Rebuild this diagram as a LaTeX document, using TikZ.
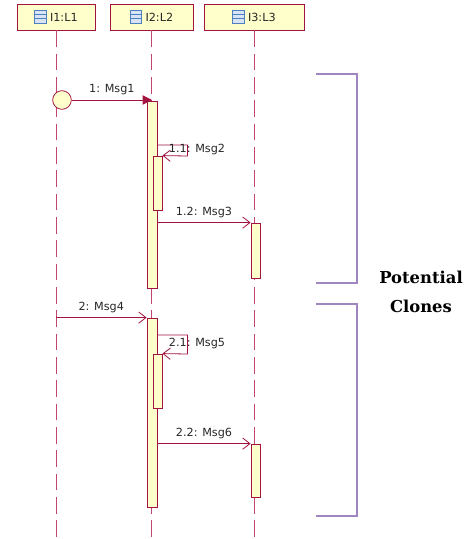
\documentclass[tikz,border=0pt]{standalone}
\usepackage{fontspec}
\setsansfont{DejaVu Sans}
\newfontfamily\notefont{DejaVu Serif}
\usetikzlibrary{positioning,fit,arrows.meta}

\definecolor{umlred}{HTML}{A3133F}
\definecolor{lifered}{HTML}{C2456F}
\definecolor{umlfill}{HTML}{FFFFCC}
\definecolor{iconblue}{HTML}{4F7FBF}
\definecolor{iconfill}{HTML}{D6E4F5}
\definecolor{bracepurple}{HTML}{9F86C0}

% small class icon in the lifeline heads
\newcommand{\clsicon}{\tikz[baseline=0pt]{%
    \draw[iconblue,fill=iconfill,line width=0.6pt] (0pt,-1.5pt) rectangle (8.5pt,8.5pt);
    \draw[iconblue,line width=0.5pt] (0pt,5.5pt) -- (8.5pt,5.5pt) (0pt,2.5pt) -- (8.5pt,2.5pt);}}

\begin{document}
\begin{tikzpicture}[x=0.75pt,y=-0.75pt,
    every node/.style={font=\sffamily\fontsize{8.4}{10}\selectfont,text=black!85},
    head/.style={draw=umlred,fill=umlfill,minimum height=19.5pt,inner sep=0pt,line width=0.6pt},
    bar/.style={draw=umlred,fill=umlfill,inner sep=0pt,line width=0.6pt},
    lifeline/.style={lifered,dash pattern=on 12.5pt off 5pt,line width=0.6pt},
    msg/.style={umlred,line width=0.6pt,-{Straight Barb[length=5.5pt,width=8.5pt]}},
    brace/.style={bracepurple,line width=1.6pt}]
    \useasboundingbox (0,0) rectangle (471,539);

    % Lifeline heads
    \node[head,minimum width=58.5pt] (l1) at (56,17) {\clsicon\ I1:L1};
    \node[head,minimum width=62.25pt] (l2) at (151.5,17) {\clsicon\ I2:L2};
    \node[head,minimum width=75pt] (l3) at (254,17) {\clsicon\ I3:L3};

    % Dashed lifelines
    \foreach \n in {1,2,3} {
        \draw[lifeline] (l\n.south) -- (l\n.south |- 0,539);
    }

    % Activation bars
    \node[bar,fit={(147,101) (157,288)}] (a1) {};
    \node[bar,fit={(153,156) (162,210)}] (a2) {};
    \node[bar,fit={(251,223) (260,278)}] (a3) {};
    \node[bar,fit={(147,318) (157,507)}] (b1) {};
    \node[bar,fit={(153,354) (162,408)}] (b2) {};
    \node[bar,fit={(251,444) (260,497)}] (b3) {};

    % Found message
    \node[circle,draw=umlred,fill=umlfill,minimum size=14pt,inner sep=0pt,line width=0.6pt] (start) at (62,100) {};
    \draw[umlred,line width=0.6pt,-{Triangle[length=7pt,width=7pt]}] (start) -- (start -| a1.north)
        node[midway,above] (m1) {1: Msg1};

    % First call
    \draw[msg] (a1.east |- 0,145) -- ++(30,0) -- ++(0,11) -- (a2.north east);
    \node (m2) at (197,150) {1.1: Msg2};
    \draw[msg] (a1.east |- a3.north) -- (a3.north west) node[midway,above] (m3) {1.2: Msg3};

    % Second call
    \draw[msg] (l1 |- b1.north) -- (b1.north west) node[midway,above] (m4) {2: Msg4};
    \draw[msg] (b1.east |- 0,335) -- ++(30,0) -- ++(0,19) -- (b2.north east);
    \node (m5) at (197,344) {2.1: Msg5};
    \draw[msg] (b1.east |- b3.north) -- (b3.north west) node[midway,above] (m6) {2.2: Msg6};

    % Brackets and note
    \draw[brace] (316,74) -| (357,283) -- (316,283);
    \draw[brace] (316,304) -| (357,516) -- (316,516);
    \node[font=\notefont\bfseries\fontsize{12.3}{21.5}\selectfont,text=black,align=center] (clones) at (421,292) {Potential\\Clones};
\end{tikzpicture}
\end{document}
